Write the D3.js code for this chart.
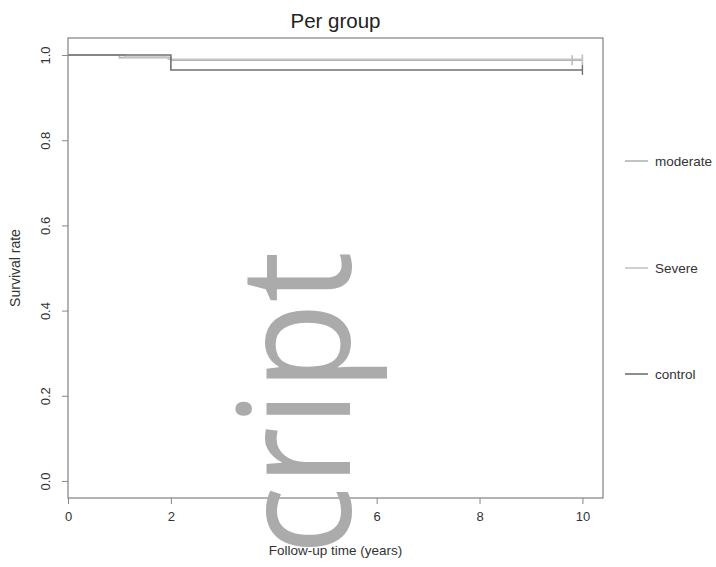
<!DOCTYPE html>
<html>
<head>
<meta charset="utf-8">
<script src="https://cdn.jsdelivr.net/npm/d3@7"></script>
<style>
  html, body { margin: 0; padding: 0; background: #fff; }
  svg { display: block; font-family: "Liberation Sans", Arial, sans-serif; }
</style>
</head>
<body>
<svg id="chart" width="716" height="567"></svg>
<script>
// Kaplan-Meier style survival steps per group: [time, survival]
const groups = ["moderate", "Severe", "control"];
const moderateSteps = [[0, 1.0], [1.0, 0.994], [2.0, 0.988], [10, 0.988]];
const severeSteps   = [[0, 1.0], [1.1, 0.995], [1.95, 0.990], [10, 0.990]];
const controlSteps  = [[0, 1.0], [2.0, 0.965], [10, 0.965]];
// censoring times per group
const moderateCensor = [9.8, 10];
const severeCensor   = [10];
const controlCensor  = [10];

const xTicks = [0, 2, 4, 6, 8, 10];
const yTicks = [0.0, 0.2, 0.4, 0.6, 0.8, 1.0];
const groupColors = ["#b4b4b4", "#c4c4c4", "#707070"];

const svg = d3.select("#chart");
const plot = { left: 68, right: 603, top: 38, bottom: 498 };

const x = d3.scaleLinear().domain([0, 10.4]).range([plot.left, plot.right]);
const y = d3.scaleLinear().domain([-0.04, 1.04]).range([plot.bottom, plot.top]);

// title
svg.append("text")
  .attr("x", (plot.left + plot.right) / 2).attr("y", 28)
  .attr("text-anchor", "middle")
  .attr("font-size", 20.5).attr("fill", "#222")
  .text("Per group");

// x axis
const xAxis = svg.append("g")
  .attr("transform", `translate(0,${plot.bottom})`)
  .call(d3.axisBottom(x).tickValues(xTicks).tickFormat(d3.format("d")).tickSize(6).tickPadding(8));
xAxis.select(".domain").remove();
xAxis.selectAll("line").attr("stroke", "#888");
xAxis.selectAll("text").attr("font-size", 13).attr("fill", "#333")
  .attr("font-family", "Liberation Sans, Arial, sans-serif");

// y axis with labels parallel to the axis
const yAxis = svg.append("g")
  .attr("transform", `translate(${plot.left},0)`)
  .call(d3.axisLeft(y).tickValues(yTicks).tickFormat(d3.format(".1f")).tickSize(6));
yAxis.select(".domain").remove();
yAxis.selectAll("line").attr("stroke", "#888");
yAxis.selectAll("text")
  .attr("font-size", 13).attr("fill", "#333")
  .attr("font-family", "Liberation Sans, Arial, sans-serif")
  .attr("x", null).attr("dy", null)
  .attr("text-anchor", "middle")
  .attr("transform", "translate(-18,0) rotate(-90)");

// axis titles
svg.append("text")
  .attr("x", (plot.left + plot.right) / 2).attr("y", 555)
  .attr("text-anchor", "middle").attr("font-size", 13.5).attr("fill", "#333")
  .text("Follow-up time (years)");
svg.append("text")
  .attr("transform", `translate(20,${(plot.top + plot.bottom) / 2}) rotate(-90)`)
  .attr("text-anchor", "middle").attr("font-size", 14).attr("fill", "#333")
  .text("Survival rate");

// plot box
svg.append("rect")
  .attr("x", plot.left).attr("y", plot.top)
  .attr("width", plot.right - plot.left).attr("height", plot.bottom - plot.top)
  .attr("fill", "none").attr("stroke", "#808080").attr("stroke-width", 1.2);

// survival curves
const stepLine = d3.line().x(d => x(d[0])).y(d => y(d[1])).curve(d3.curveStepAfter);
const curves = [moderateSteps, severeSteps, controlSteps];
const censors = [moderateCensor, severeCensor, controlCensor];

curves.forEach((steps, i) => {
  svg.append("path")
    .datum(steps)
    .attr("d", stepLine)
    .attr("fill", "none")
    .attr("stroke", groupColors[i])
    .attr("stroke-width", 1.6);
  const last = steps[steps.length - 1][1];
  svg.append("g").selectAll("line")
    .data(censors[i])
    .join("line")
    .attr("x1", d => x(d)).attr("x2", d => x(d))
    .attr("y1", y(last) - 5).attr("y2", y(last) + 5)
    .attr("stroke", groupColors[i]).attr("stroke-width", 1.4);
});

// legend outside the plot on the right
const legendY = [161, 268, 374];
const legend = svg.append("g");
groups.forEach((g, i) => {
  legend.append("line")
    .attr("x1", 625).attr("x2", 648)
    .attr("y1", legendY[i]).attr("y2", legendY[i])
    .attr("stroke", groupColors[i]).attr("stroke-width", 1.6);
  legend.append("text")
    .attr("x", 655).attr("y", legendY[i] + 4.5)
    .attr("font-size", 13.5).attr("fill", "#333")
    .text(g);
});

// overlaid mark
svg.append("text")
  .attr("transform", "translate(350,555) rotate(-90) scale(0.93,1)")
  .attr("font-family", "'Open Sans', sans-serif")
  .attr("font-size", 155)
  .attr("fill", "#ababab")
  .text("cript");
</script>
</body>
</html>
